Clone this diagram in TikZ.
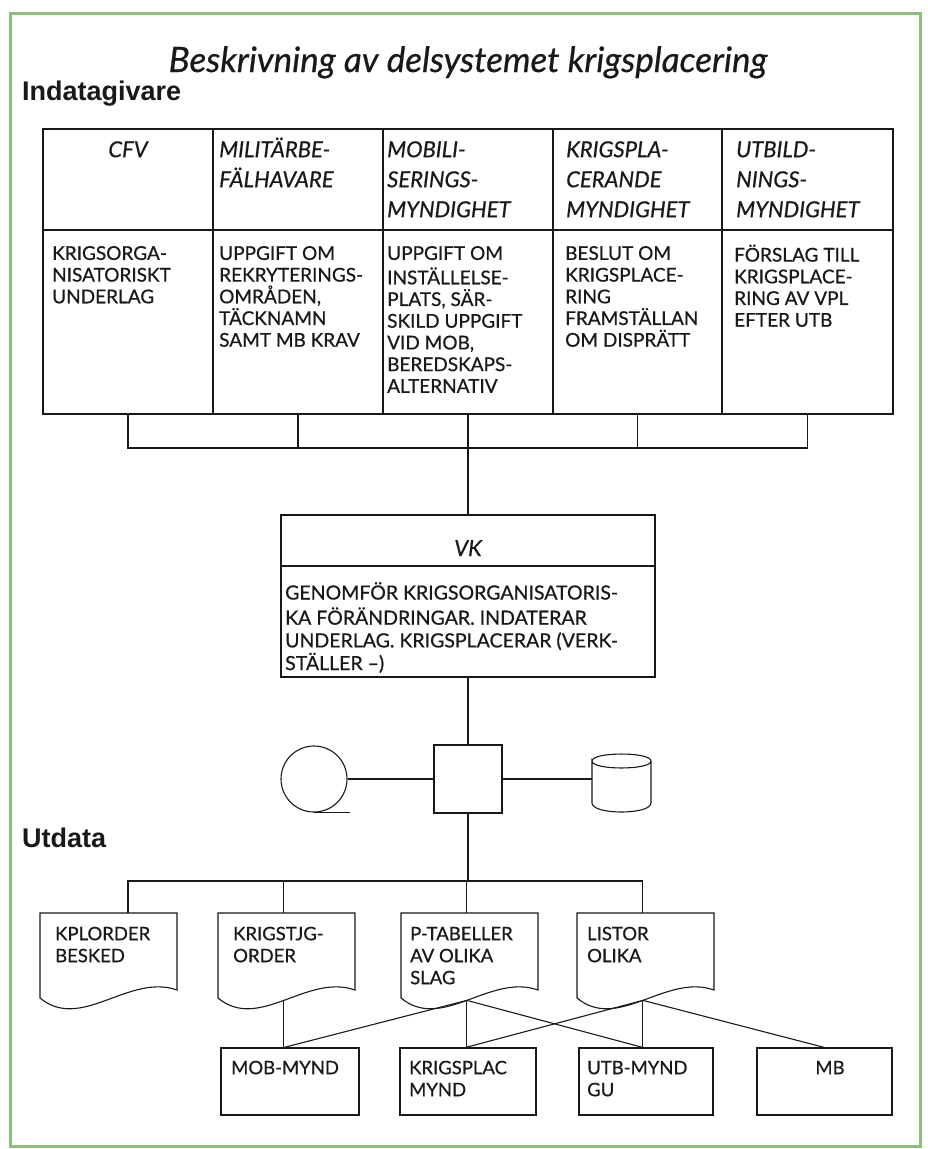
\documentclass[tikz,border=0pt]{standalone}
\usepackage{fontspec}
\setmainfont{Lato}[FakeBold=0.6]
\newfontfamily\headfont{Liberation Sans}
\definecolor{frameg}{RGB}{140,190,125}
\definecolor{ink}{RGB}{25,25,25}
\begin{document}
\begin{tikzpicture}[x=1pt,y=-1pt,
  ln/.style={draw=ink, line width=1.1pt},
  cell/.style={ln, rectangle, inner sep=0pt},
  ghost/.style={rectangle, inner sep=0pt},
  hdr/.style={font=\fontsize{22}{30}\selectfont\itshape, inner sep=0pt, align=left, anchor=north west, text=ink},
  bod/.style={font=\fontsize{19}{21.7}\selectfont, inner sep=0pt, align=left, anchor=north west, text=ink},
  vkt/.style={font=\fontsize{19.5}{22.7}\selectfont, inner sep=0pt, align=left, anchor=north west, text=ink},
  outt/.style={font=\fontsize{18.5}{22}\selectfont, inner sep=0pt, align=left, anchor=north west, text=ink},
  sect/.style={font=\headfont\bfseries\fontsize{27}{30}\selectfont, inner sep=0pt, anchor=base west, text=ink}
]
\useasboundingbox (0,0) rectangle (928,1149);
\fill[white] (0,0) rectangle (928,1149);
\draw[frameg, line width=3pt] (10,13) rectangle (920,1146);

% title and section heads
\node[font=\fontsize{35}{40}\selectfont\itshape, anchor=base, inner sep=0pt, text=ink] (title) at (468,72) {Beskrivning av delsystemet krigsplacering};
\node[sect] (indata) at (22,100) {Indatagivare};
\node[sect] (utdata) at (22,847) {Utdata};

% input table
\foreach \i/\cx/\w in {1/128/170,2/298/170,3/468/170,4/637.5/169,5/807.5/171} {
  \node[cell, minimum width=\w pt, minimum height=101pt] (hc\i) at (\cx,179.5) {};
  \node[cell, minimum width=\w pt, minimum height=184pt] (bc\i) at (\cx,322) {};
}
\node[hdr, anchor=north] (h1) at (128,136) {\strut CFV};
\node[hdr] (h2) at (219,136) {\strut MILITÄRBE-\\FÄLHAVARE};
\node[hdr] (h3) at (387,136) {\strut MOBILI-\\SERINGS-\\MYNDIGHET};
\node[hdr] (h4) at (566,136) {\strut KRIGSPLA-\\CERANDE\\MYNDIGHET};
\node[hdr] (h5) at (736,136) {\strut UTBILD-\\NINGS-\\MYNDIGHET};

\node[bod] (b1) at (52,244.5) {\strut KRIGSORGA-\\NISATORISKT\\UNDERLAG};
\node[bod] (b2) at (219,244.5) {\strut UPPGIFT OM\\REKRYTERINGS-\\OMRÅDEN,\\TÄCKNAMN\\SAMT MB KRAV};
\node[bod] (b3) at (387,244.5) {\strut UPPGIFT OM\\INSTÄLLELSE-\\PLATS, SÄR-\\SKILD UPPGIFT\\VID MOB,\\BEREDSKAPS-\\ALTERNATIV};
\node[bod] (b4) at (565,244.5) {\strut BESLUT OM\\KRIGSPLACE-\\RING\\FRAMSTÄLLAN\\OM DISPRÄTT};
\node[bod] (b5) at (734,244.5) {\strut FÖRSLAG TILL\\KRIGSPLACE-\\RING AV VPL\\EFTER UTB};

% bracket below table
\coordinate (brL) at (128,448);
\coordinate (brR) at (807.5,448);
\draw[ln] (bc1.south) -- (brL) -- (brR) -- (bc5.south);
\foreach \i in {2,3,4} \draw[ln] (bc\i.south) -- (bc\i.south |- brL);

% VK box
\node[cell, minimum width=374pt, minimum height=51pt] (vkh) at (468,540.5) {};
\node[cell, minimum width=374pt, minimum height=111pt] (vkb) at (468,621.5) {};
\node[hdr, anchor=base] (vkl) at (468,556) {VK};
\node[vkt] (vktext) at (285,582) {\strut GENOMFÖR KRIGSORGANISATORIS-\\KA FÖRÄNDRINGAR. INDATERAR\\UNDERLAG. KRIGSPLACERAR (VERK-\\STÄLLER –)};
\draw[ln] (bc3.south |- brL) -- (vkh.north);

% processing symbols
\node[cell, minimum width=68pt, minimum height=68pt] (sq) at (468,779) {};
\node[ln, circle, minimum size=66pt, inner sep=0pt] (tape) at (314,779) {};
\draw[ln] (tape.south) -- ++(36,0);
\node[ghost, minimum width=59pt, minimum height=66pt] (disk) at (621.5,779) {};
\draw[ln] (592,761) .. controls (592,751.7) and (651,751.7) .. (651,761)
          .. controls (651,770.3) and (592,770.3) .. (592,761)
          -- (592,803) .. controls (592,815) and (651,815) .. (651,803) -- (651,761);
\draw[ln] (vkb.south) -- (sq.north);
\draw[ln] (tape.east) -- (sq.west);
\draw[ln] (sq.east) -- (disk.west);

% output documents
\foreach \n/\x in {d1/40,d2/218,d3/401,d4/577} {
  \node[ghost, minimum width=137pt, minimum height=80pt, anchor=north west] (\n) at (\x,913) {};
  \draw[ln] (\x,913) -- (\x,998) .. controls (\x+41,1032) and (\x+89,973) .. (\x+137,990) coordinate[pos=0.5] (\n-w) -- (\x+137,913) -- cycle;
}
\node[outt] (t1) at (55,924.6) {\strut KPLORDER\\BESKED};
\node[outt] (t2) at (233,924.6) {\strut KRIGSTJG-\\ORDER};
\node[outt] (t3) at (410,924.6) {\strut P-TABELLER\\AV OLIKA\\SLAG};
\node[outt] (t4) at (587,924.6) {\strut LISTOR\\OLIKA};

\coordinate (obL) at (128,881);
\draw[ln] (sq.south) -- (sq.south |- obL);
\draw[ln] (obL |- d1.north) -- (obL) -- (d4-w |- obL) -- (d4-w |- d4.north);
\draw[ln] (d2-w |- obL) -- (d2-w |- d2.north);
\draw[ln] (d3-w |- obL) -- (d3-w |- d3.north);

% receivers
\node[cell, minimum width=138pt, minimum height=67pt] (mob) at (290,1081.5) {};
\node[cell, line width=1.8pt, minimum width=136pt, minimum height=67pt] (kp) at (468,1081.5) {};
\node[cell, minimum width=134pt, minimum height=67pt] (utb) at (646,1081.5) {};
\node[cell, minimum width=135pt, minimum height=67pt] (mb) at (824.5,1081.5) {};
\node[outt] (r1) at (231,1058.6) {\strut MOB-MYND};
\node[outt] (r2) at (409,1058.6) {\strut KRIGSPLAC\\MYND};
\node[outt] (r3) at (587,1058.6) {\strut UTB-MYND\\GU};
\node[outt, anchor=north] (r4) at (830,1058.6) {\strut MB};

% distribution lines
\draw[ln] (d2-w) -- (d2-w |- mob.north);
\draw[ln] (d3-w) -- (d2-w |- mob.north);
\draw[ln] (d3-w) -- (d3-w |- kp.north);
\draw[ln] (d3-w) -- (d4-w |- utb.north);
\draw[ln] (d4-w) -- (d3-w |- kp.north);
\draw[ln] (d4-w) -- (d4-w |- utb.north);
\draw[ln] (d4-w) -- (mb.north);
\end{tikzpicture}
\end{document}
